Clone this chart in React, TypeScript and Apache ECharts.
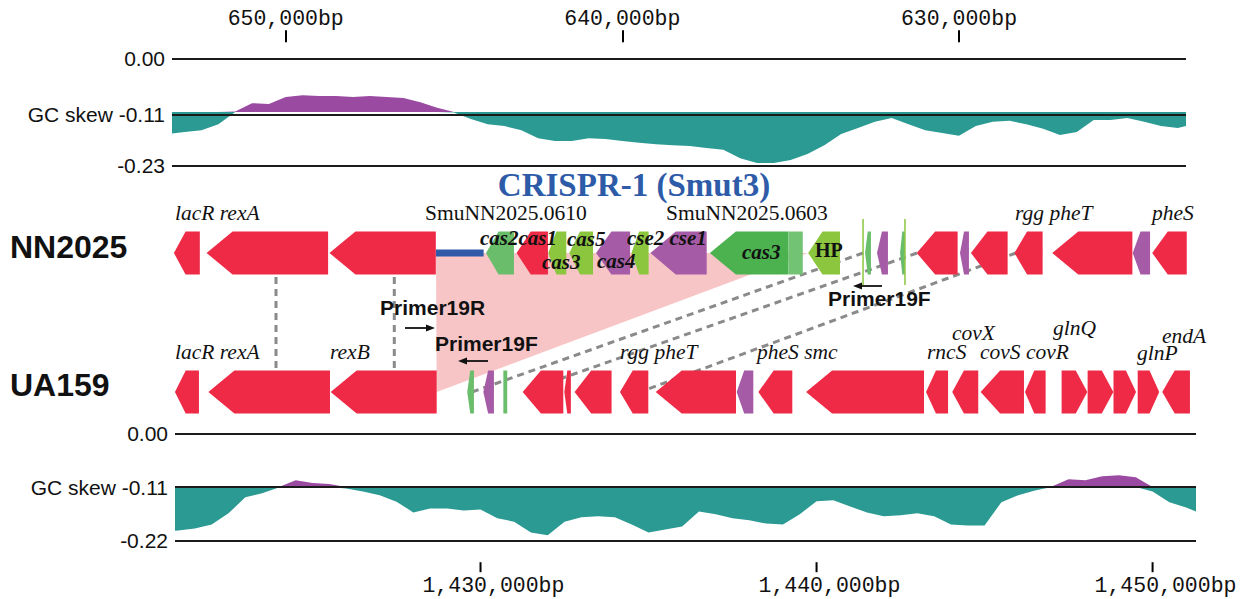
import React, { useEffect, useRef } from "react";
import * as echarts from "echarts";

// ---------------- axes / tick labels ----------------
const topTicks = [650000, 640000, 630000];
const bottomTicks = [1430000, 1440000, 1450000];
const topSkewLevels = [0, -0.115, -0.23];
const topSkewLabels = ["0.00", "GC skew -0.11", "-0.23"];
const bottomSkewLevels = [0, -0.11, -0.22];
const bottomSkewLabels = ["0.00", "GC skew -0.11", "-0.22"];

// ---------------- GC skew (NN2025), one value every 500 bp ----------------
const topSkewStart = 653500;
const topSkewStep = -500;
const topSkew = [
  -0.162, -0.158, -0.154, -0.141, -0.114, -0.096, -0.098, -0.083, -0.079, -0.081,
  -0.081, -0.083, -0.081, -0.083, -0.085, -0.094, -0.106, -0.116, -0.13, -0.141,
  -0.145, -0.154, -0.171, -0.177, -0.177, -0.171, -0.173, -0.177, -0.181, -0.184,
  -0.186, -0.188, -0.192, -0.196, -0.214, -0.224, -0.224, -0.218, -0.205, -0.186,
  -0.162, -0.149, -0.136, -0.128, -0.141, -0.154, -0.16, -0.166, -0.145, -0.136,
  -0.134, -0.141, -0.151, -0.164, -0.158, -0.132, -0.132, -0.128, -0.136, -0.145,
  -0.149, -0.141,
];

// ---------------- GC skew (UA159), one value every 500 bp ----------------
const bottomSkewStart = 1420500;
const bottomSkewStep = 500;
const bottomSkew = [
  -0.201, -0.199, -0.195, -0.187, -0.164, -0.131, -0.123, -0.111, -0.096, -0.102,
  -0.104, -0.113, -0.119, -0.127, -0.14, -0.162, -0.154, -0.154, -0.158, -0.156,
  -0.174, -0.181, -0.203, -0.209, -0.181, -0.172, -0.17, -0.172, -0.187, -0.203,
  -0.197, -0.191, -0.16, -0.166, -0.174, -0.178, -0.185, -0.187, -0.166, -0.139,
  -0.137, -0.15, -0.162, -0.17, -0.168, -0.164, -0.17, -0.187, -0.189, -0.189,
  -0.141, -0.127, -0.117, -0.109, -0.094, -0.096, -0.088, -0.086, -0.09, -0.119,
  -0.141, -0.152, -0.166,
];

// ---------------- genes: [from bp, to bp, direction on screen (-1 left, 1 right, 0 box), colour] ----------------
const nnGenes: [number, number, number, string][] = [
  [653320, 652550, -1, "red"],
  [652350, 648740, -1, "red"],
  [648700, 645540, -1, "red"],
  [644050, 643220, -1, "green"],
  [643140, 642210, -1, "red"],
  [642200, 641665, -1, "lime"],
  [641575, 640870, -1, "lime"],
  [640780, 639770, -1, "purple"],
  [639730, 639220, -1, "lime"],
  [639165, 637495, -1, "purple"],
  [637400, 635070, -1, "dark"],
  [635070, 634640, 0, "light"],
  [634480, 633535, -1, "lime"],
  [632790, 632615, -1, "green"],
  [632435, 632110, -1, "purple"],
  [631750, 631605, -1, "green"],
  [631255, 630040, -1, "red"],
  [629970, 629705, -1, "purple"],
  [629645, 628555, -1, "red"],
  [628355, 627515, -1, "red"],
  [627230, 624850, -1, "red"],
  [624840, 624325, -1, "purple"],
  [624260, 623235, -1, "red"],
];

const uaGenes: [number, number, number, string][] = [
  [1420905, 1421620, -1, "red"],
  [1421900, 1425520, -1, "red"],
  [1425540, 1428695, -1, "red"],
  [1429605, 1429805, -1, "green"],
  [1430085, 1430400, -1, "purple"],
  [1430680, 1430795, 0, "green"],
  [1431255, 1432465, -1, "red"],
  [1432495, 1432690, -1, "red"],
  [1432800, 1433900, -1, "red"],
  [1434150, 1434995, -1, "red"],
  [1435215, 1437605, -1, "red"],
  [1437625, 1438120, -1, "purple"],
  [1438270, 1439280, -1, "red"],
  [1439690, 1443200, -1, "red"],
  [1443260, 1443915, -1, "red"],
  [1444040, 1444815, -1, "red"],
  [1444885, 1446175, -1, "red"],
  [1446205, 1446820, -1, "red"],
  [1447295, 1448060, 1, "red"],
  [1448070, 1448835, 1, "red"],
  [1448840, 1449510, 1, "red"],
  [1449560, 1450200, 1, "red"],
  [1450290, 1451115, -1, "red"],
];

// CRISPR array (NN2025) and repeat marks
const crisprArray = [645540, 644120];
const repeatMarks = [632850, 631605];
// insertion: NN2025 span -> UA159 point
const crisprInsert = [645536, 634485, 1428696];
// synteny links: [NN2025 bp, UA159 bp]
const syntenyLinks: [number, number][] = [
  [650288, 1423913],
  [646774, 1427434],
  [632851, 1429747],
  [631248, 1431265],
  [628308, 1434747],
];

// labels: [bp (left edge), offset from track centre, text, style]
const nnLabels: [number, number, string, string][] = [
  [653288, -40, "lacR rexA", "italic"],
  [645862, -40, "SmuNN2025.0610", "roman"],
  [638704, -40, "SmuNN2025.0603", "roman"],
  [628337, -40, "rgg pheT", "italic"],
  [624267, -40, "pheS", "italic"],
  [644228, -15, "cas2cas1", "boldItalic"],
  [641644, -14, "cas5", "boldItalic"],
  [639862, -15, "cse2 cse1", "boldItalic"],
  [642387, 9, "cas3", "boldItalic"],
  [640753, 8, "cas4", "boldItalic"],
  [636446, -1, "cas3", "boldItalic"],
  [634278, -3, "HP", "bold"],
];
const uaLabels: [number, number, string, string][] = [
  [1420907, -40, "lacR rexA", "italic"],
  [1425520, -40, "rexB", "italic"],
  [1434151, -40, "rgg pheT", "italic"],
  [1438229, -40, "pheS smc", "italic"],
  [1443288, -40, "rncS", "italic"],
  [1444031, -59, "covX", "italic"],
  [1444866, -40, "covS covR", "italic"],
  [1447038, -64, "glnQ", "italic"],
  [1449539, -39, "glnP", "italic"],
  [1450283, -56, "endA", "italic"],
];
const crisprTitle: [number, number, string] = [639654, -68, "CRISPR-1 (Smut3)"];

// primers: [text bp, text offset, arrow from bp, arrow to bp, arrow offset, name]
const nnPrimers: [number, number, number, number, number, string][] = [
  [633892, 45, 632288, 633149, 33, "Primer19F"],
];
const uaPrimers: [number, number, number, number, number, string][] = [
  [1427009, -85, 1427753, 1428646, -64, "Primer19R"],
  [1428645, -49, 1430223, 1429330, -31, "Primer19F"],
];

// ---------------- styles ----------------
const geneColors: Record<string, string> = {
  red: "#ee2a46",
  purple: "#a65ba6",
  green: "#69bd6b",
  lime: "#8cc63f",
  dark: "#4cb14f",
  light: "#73c375",
};
const TEAL = "#2b9a93";
const PURPLE = "#9b4aa2";
const HALF = 21.5;
const labelFonts: Record<string, any> = {
  italic: { fontStyle: "italic", fontWeight: "normal", fontSize: 21.5, fontFamily: "Liberation Serif" },
  roman: { fontStyle: "normal", fontWeight: "normal", fontSize: 21.5, fontFamily: "Liberation Serif" },
  boldItalic: { fontStyle: "italic", fontWeight: "bold", fontSize: 21, fontFamily: "Liberation Serif" },
  bold: { fontStyle: "normal", fontWeight: "bold", fontSize: 20, fontFamily: "Liberation Serif" },
};

const commas = (v: number) => String(v).replace(/\B(?=(\d{3})+(?!\d))/g, ",");

function geneSeries(list: [number, number, number, string][], row: number, xAxisIndex: number) {
  return {
    type: "custom",
    xAxisIndex,
    yAxisIndex: 2,
    z: 3,
    clip: false,
    silent: true,
    data: list.map((g) => [g[0], row]),
    renderItem: (params: any, api: any) => {
      const g = list[params.dataIndex];
      const a = api.coord([g[0], row]);
      const b = api.coord([g[1], row]);
      const x0 = Math.min(a[0], b[0]);
      const x1 = Math.max(a[0], b[0]);
      const yc = a[1];
      const h = Math.min(26, (x1 - x0) * 0.45);
      let pts: number[][];
      if (g[2] < 0) {
        pts = [[x0, yc], [x0 + h, yc - HALF], [x1, yc - HALF], [x1, yc + HALF], [x0 + h, yc + HALF]];
      } else if (g[2] > 0) {
        pts = [[x1, yc], [x1 - h, yc - HALF], [x0, yc - HALF], [x0, yc + HALF], [x1 - h, yc + HALF]];
      } else {
        pts = [[x0, yc - HALF], [x1, yc - HALF], [x1, yc + HALF], [x0, yc + HALF]];
      }
      return { type: "polygon", shape: { points: pts }, style: { fill: geneColors[g[3]] } };
    },
  };
}

function labelSeries(list: [number, number, string, string][], row: number, xAxisIndex: number) {
  return {
    type: "custom",
    xAxisIndex,
    yAxisIndex: 2,
    z: 5,
    clip: false,
    silent: true,
    data: list.map((l) => [l[0], row]),
    renderItem: (params: any, api: any) => {
      const l = list[params.dataIndex];
      const p = api.coord([l[0], row]);
      return {
        type: "text",
        x: p[0],
        y: p[1] + l[1],
        style: { text: l[2], fill: "#111", align: "left", verticalAlign: "middle", ...labelFonts[l[3]] },
      };
    },
  };
}

function primerSeries(list: [number, number, number, number, number, string][], row: number, xAxisIndex: number) {
  return {
    type: "custom",
    xAxisIndex,
    yAxisIndex: 2,
    z: 5,
    clip: false,
    silent: true,
    data: list.map((p) => [p[0], row]),
    renderItem: (params: any, api: any) => {
      const p = list[params.dataIndex];
      const t = api.coord([p[0], row]);
      const f = api.coord([p[2], row]);
      const e = api.coord([p[3], row]);
      const y = f[1] + p[4];
      const d = e[0] > f[0] ? 1 : -1;
      return {
        type: "group",
        children: [
          {
            type: "text",
            x: t[0],
            y: t[1] + p[1],
            style: {
              text: p[5], fill: "#111", align: "left", verticalAlign: "middle",
              fontSize: 21, fontWeight: "bold", fontFamily: "Liberation Sans",
            },
          },
          { type: "line", shape: { x1: f[0], y1: y, x2: e[0] - d * 6, y2: y }, style: { stroke: "#111", lineWidth: 1.8 } },
          {
            type: "polygon",
            shape: { points: [[e[0], y], [e[0] - d * 9, y - 3.5], [e[0] - d * 9, y + 3.5]] },
            style: { fill: "#111" },
          },
        ],
      };
    },
  };
}

export default function App() {
  const ref = useRef<HTMLDivElement>(null);
  useEffect(() => {
    const el = ref.current;
    if (!el) return;
    const chart = echarts.init(el, null, { renderer: "svg" });

    const skewLine = (
      values: number[], start: number, step: number, base: number, ax: number, above: boolean,
      levels?: number[], labels?: string[], labelPos?: string,
    ): any => {
      const s: any = {
        type: "line",
        xAxisIndex: ax,
        yAxisIndex: ax,
        symbol: "none",
        silent: true,
        lineStyle: { width: 0 },
        areaStyle: { color: above ? PURPLE : TEAL, opacity: 1, origin: base },
        data: values.map((v, i) => [start + i * step, above ? Math.max(v, base) : Math.min(v, base)]),
      };
      if (levels && labels) {
        s.markLine = {
          silent: true,
          symbol: ["none", "none"],
          animation: false,
          lineStyle: { color: "#1b1b1b", width: 2, type: "solid" },
          emphasis: { disabled: true },
          label: {
            show: true,
            position: labelPos,
            distance: 7,
            color: "#111",
            fontSize: 21,
            fontFamily: "Liberation Sans",
          },
          data: levels.map((v, i) => ({ yAxis: v, label: { formatter: labels[i] } })),
        };
      }
      return s;
    };

    const axisTextStyle = { color: "#111", fontSize: 21.5, fontFamily: "Liberation Mono" };

    const option: any = {
      animation: false,
      backgroundColor: "#ffffff",
      grid: [
        { left: 172, width: 1014, top: 58.3, height: 107.4, outerBoundsMode: "none" },
        { left: 175, width: 1021, top: 433.3, height: 107.4, outerBoundsMode: "none" },
        { left: 172, width: 1024, top: 253, height: 139, outerBoundsMode: "none" },
        // strip that carries the UA159 coordinate ruler
        { left: 175, width: 1021, top: 551.7, height: 10, outerBoundsMode: "none" },
      ],
      xAxis: [
        {
          gridIndex: 0, type: "value", inverse: true, min: 623257, max: 653377, position: "top", offset: 16,
          axisLine: { show: false, onZero: false }, splitLine: { show: false },
          axisTick: { show: true, customValues: topTicks, length: 12, lineStyle: { color: "#000", width: 2 } },
          axisLabel: {
            show: true, customValues: topTicks, margin: 12, ...axisTextStyle,
            formatter: (v: number) => commas(v) + "bp",
          },
        },
        {
          gridIndex: 1, type: "value", min: 1420908, max: 1451292, show: false,
          axisLine: { onZero: false },
        },
        { gridIndex: 2, type: "value", inverse: true, min: 622960, max: 653377, show: false },
        { gridIndex: 2, type: "value", min: 1420818, max: 1451295, show: false },
        {
          gridIndex: 3, type: "value", min: 1420908, max: 1451292, position: "bottom",
          axisLine: { show: false, onZero: false }, splitLine: { show: false },
          axisTick: { show: false },
          axisLabel: {
            show: true, customValues: bottomTicks, margin: 0, ...axisTextStyle,
            formatter: (v: number) => "{tk| }\n{lb|\u00a0\u00a0" + commas(v) + "bp}",
            rich: {
              tk: { width: 2, height: 10, lineHeight: 11, backgroundColor: "#000", fontSize: 2 },
              lb: { ...axisTextStyle, lineHeight: 26 },
            },
          },
        },
      ],
      yAxis: [
        { gridIndex: 0, type: "value", min: -0.23, max: 0, show: false, splitLine: { show: false } },
        { gridIndex: 1, type: "value", min: -0.22, max: 0, show: false, splitLine: { show: false } },
        { gridIndex: 2, type: "value", min: 0, max: 1, show: false, splitLine: { show: false } },
        { gridIndex: 3, type: "value", min: 0, max: 1, show: false, splitLine: { show: false } },
      ],
      graphic: [
        {
          type: "text", x: 10, y: 247,
          style: { text: "NN2025", fill: "#111", fontSize: 32, fontWeight: "bold", fontFamily: "Liberation Sans", align: "left", verticalAlign: "middle" },
        },
        {
          type: "text", x: 10, y: 385,
          style: { text: "UA159", fill: "#111", fontSize: 32, fontWeight: "bold", fontFamily: "Liberation Sans", align: "left", verticalAlign: "middle" },
        },
      ],
      series: [
        skewLine(topSkew, topSkewStart, topSkewStep, topSkewLevels[1], 0, true),
        skewLine(topSkew, topSkewStart, topSkewStep, topSkewLevels[1], 0, false, topSkewLevels, topSkewLabels, "end"),
        skewLine(bottomSkew, bottomSkewStart, bottomSkewStep, bottomSkewLevels[1], 1, true),
        skewLine(bottomSkew, bottomSkewStart, bottomSkewStep, bottomSkewLevels[1], 1, false, bottomSkewLevels, bottomSkewLabels, "start"),
        // pink insertion region
        {
          type: "custom", xAxisIndex: 2, yAxisIndex: 2, z: 1, clip: false, silent: true,
          data: [[crisprInsert[0], 1]],
          renderItem: (_p: any, api: any) => {
            const a = api.coord([crisprInsert[0], 1]);
            const b = api.coord([crisprInsert[1], 1]);
            const yb = api.coord([crisprInsert[0], 0])[1];
            const ux = chart.convertToPixel({ xAxisIndex: 3 } as any, crisprInsert[2]) as any;
            return {
              type: "polygon",
              shape: { points: [[a[0], a[1]], [b[0], b[1]], [ux, yb]] },
              style: { fill: "#f8c5c7" },
            };
          },
        },
        // dashed synteny links
        {
          type: "custom", xAxisIndex: 2, yAxisIndex: 2, z: 2, clip: false, silent: true,
          data: syntenyLinks.map((l) => [l[0], 1]),
          renderItem: (params: any, api: any) => {
            const l = syntenyLinks[params.dataIndex];
            const a = api.coord([l[0], 1]);
            const yb = api.coord([l[0], 0])[1];
            const ux = chart.convertToPixel({ xAxisIndex: 3 } as any, l[1]) as any;
            return {
              type: "line",
              shape: { x1: a[0], y1: a[1], x2: ux, y2: yb },
              style: { stroke: "#8a8a8a", lineWidth: 3, lineDash: [7, 5] },
            };
          },
        },
        // CRISPR array line
        {
          type: "custom", xAxisIndex: 2, yAxisIndex: 2, z: 3, clip: false, silent: true,
          data: [[crisprArray[0], 1]],
          renderItem: (_p: any, api: any) => {
            const a = api.coord([crisprArray[0], 1]);
            const b = api.coord([crisprArray[1], 1]);
            return {
              type: "rect",
              shape: { x: a[0], y: a[1] - 3.6, width: b[0] - a[0], height: 7.2 },
              style: { fill: "#2e5aa8" },
            };
          },
        },
        // repeat marks
        {
          type: "custom", xAxisIndex: 2, yAxisIndex: 2, z: 4, clip: false, silent: true,
          data: repeatMarks.map((r) => [r, 1]),
          renderItem: (params: any, api: any) => {
            const p = api.coord([repeatMarks[params.dataIndex], 1]);
            return {
              type: "line",
              shape: { x1: p[0], y1: p[1] - 34, x2: p[0], y2: p[1] + 32 },
              style: { stroke: "#8cc63f", lineWidth: 1.5 },
            };
          },
        },
        geneSeries(nnGenes, 1, 2),
        geneSeries(uaGenes, 0, 3),
        labelSeries(nnLabels, 1, 2),
        labelSeries(uaLabels, 0, 3),
        {
          type: "custom", xAxisIndex: 2, yAxisIndex: 2, z: 5, clip: false, silent: true,
          data: [[crisprTitle[0], 1]],
          renderItem: (_p: any, api: any) => {
            const p = api.coord([crisprTitle[0], 1]);
            return {
              type: "text", x: p[0], y: p[1] + crisprTitle[1],
              style: {
                text: crisprTitle[2], fill: "#2d5ba8", align: "center", verticalAlign: "middle",
                fontSize: 33, fontWeight: "bold", fontFamily: "Liberation Serif",
              },
            };
          },
        },
        primerSeries(nnPrimers, 1, 2),
        primerSeries(uaPrimers, 0, 3),
      ],
    };
    chart.setOption(option);
    return () => chart.dispose();
  }, []);
  return <div ref={ref} style={{ position: "absolute", left: 0, top: 0, width: 1248, height: 599 }} />;
}
